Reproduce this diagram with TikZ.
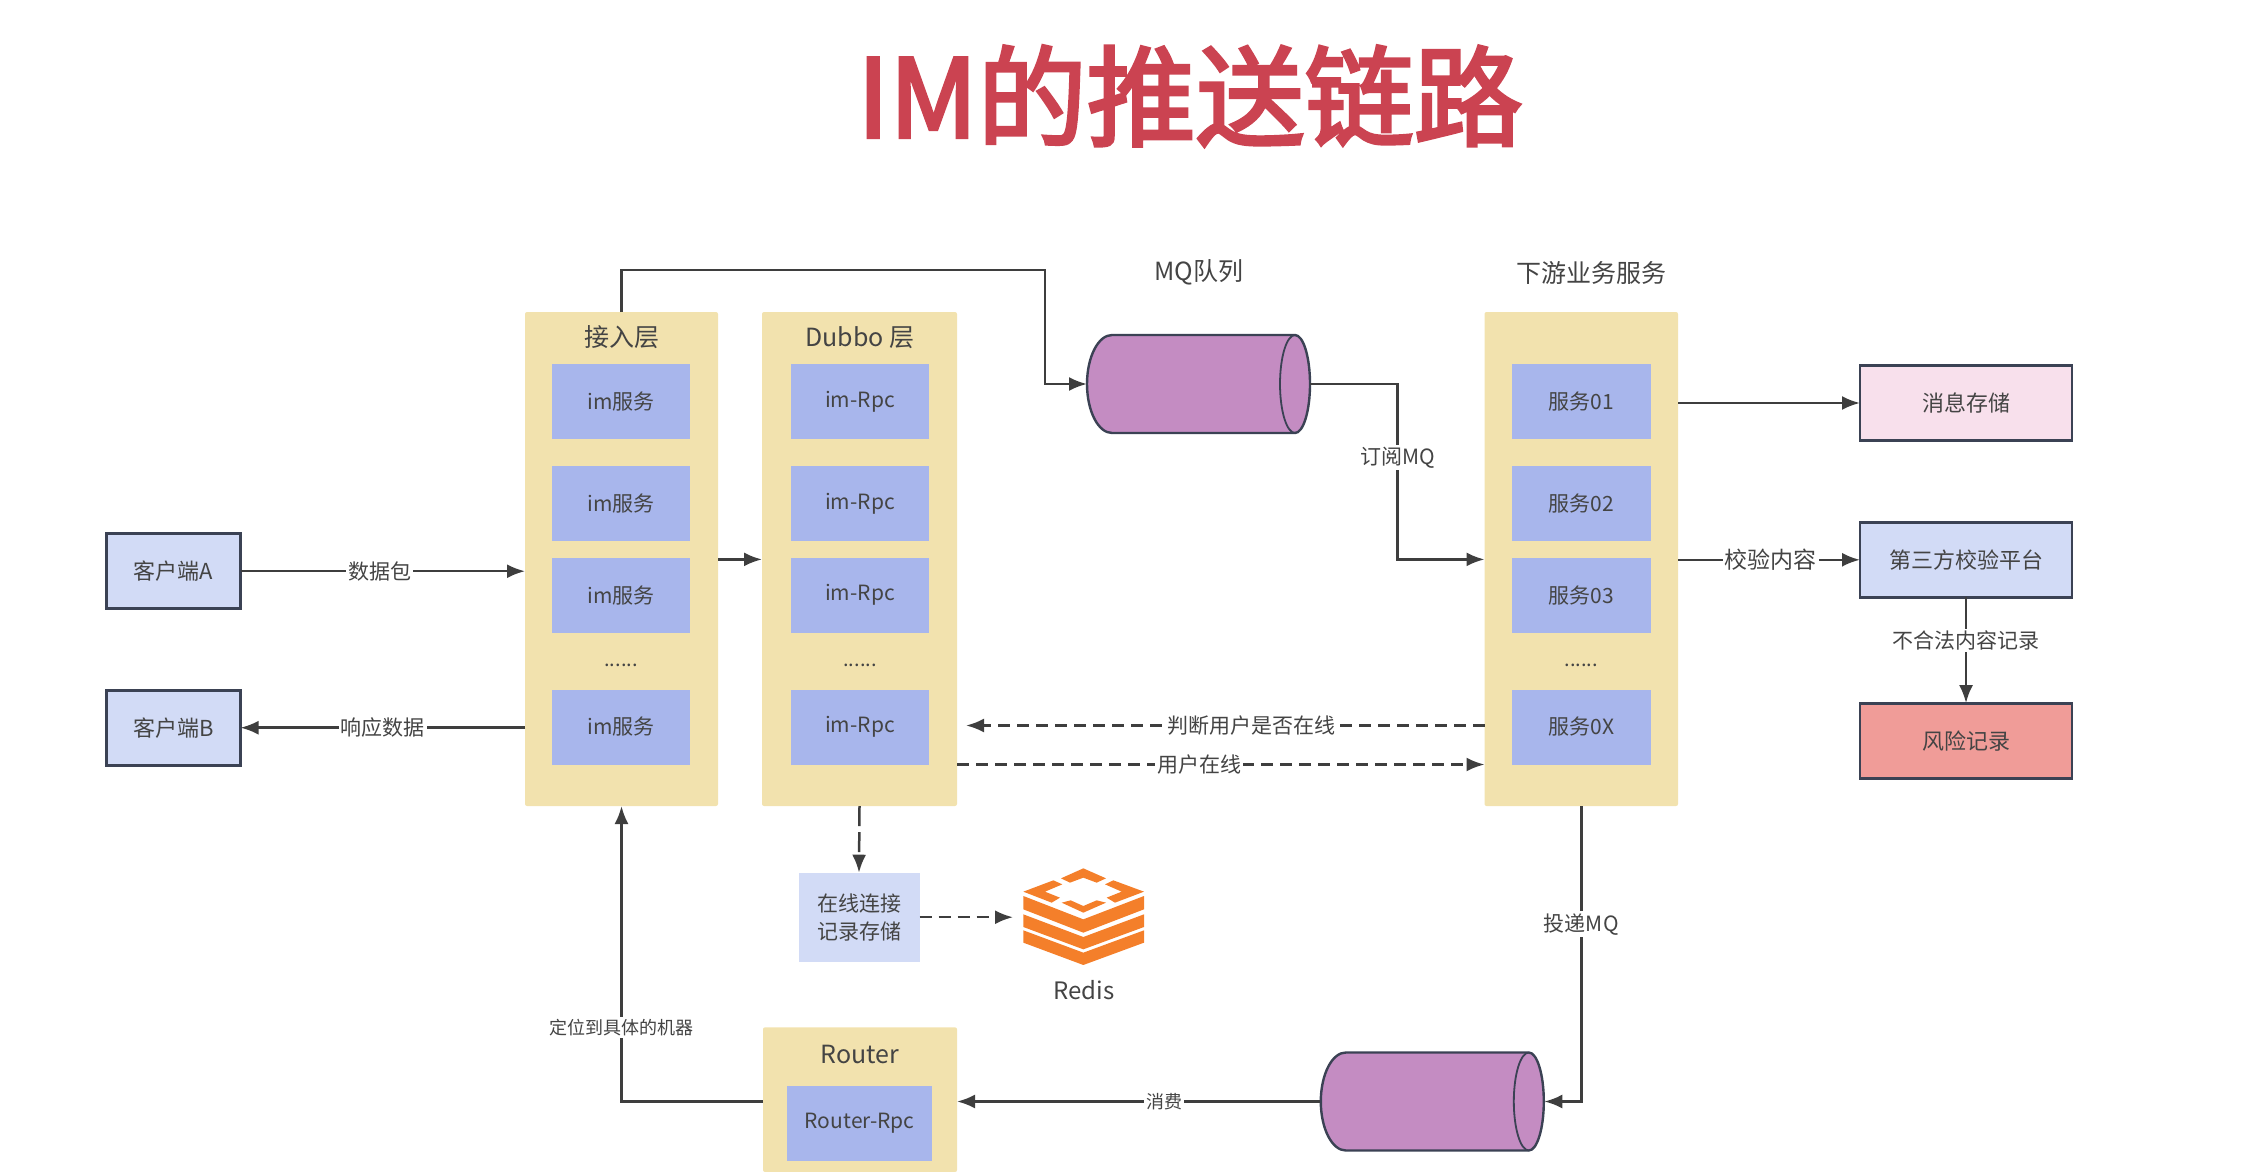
\documentclass[tikz,border=0pt]{standalone}
\usepackage{fontspec}
\setmainfont{Noto Sans CJK SC}
\newfontfamily\titlefont[FakeBold=3]{Noto Sans CJK SC}
\usetikzlibrary{arrows.meta,calc}
\definecolor{ink}{HTML}{444444}
\definecolor{wire}{HTML}{3E3E3E}
\definecolor{panelc}{HTML}{F2E2AE}
\definecolor{innerc}{HTML}{A8B6EC}
\definecolor{lightc}{HTML}{D2DBF6}
\definecolor{pinkc}{HTML}{F8E0EC}
\definecolor{redc}{HTML}{F09C98}
\definecolor{cylc}{HTML}{C48CC2}
\definecolor{edgec}{HTML}{3B4254}
\definecolor{titlec}{HTML}{CB4351}
\definecolor{orangec}{HTML}{F47F2A}
\newcommand{\fs}[1]{\fontsize{#1pt}{#1pt}\selectfont}
\tikzset{
  base/.style={inner sep=0pt,outer sep=0pt,text=ink,align=center},
  panel/.style={base,fill=panelc,rounded corners=2pt,minimum width=#1},
  tallp/.style={minimum height=494pt},
  inbox/.style={base,fill=innerc,minimum height=75pt,minimum width=#1,font=\fs{21}},
  sidebox/.style={base,draw=edgec,line width=2.8pt,fill=#1,minimum width=212pt,minimum height=75pt,font=\fs{22}},
  captxt/.style={base,font=\fs{25}},
  dotsn/.style={base,font=\fs{20}},
  lbl/.style={base,fill=white,inner sep=2pt,font=\fs{#1}},
  lbl/.default=21,
  wireline/.style={draw=wire,line width=2.5pt,-{Latex[length=18pt,width=14pt]}},
  dashline/.style={wireline,dash pattern=on 12pt off 7pt},
  cylbody/.style={fill=cylc,draw=edgec,line width=2.4pt},
  redisp/.style={fill=orangec,draw=none},
}
\begin{document}
\begin{tikzpicture}[x=1pt,y=-1pt]
\useasboundingbox (0,0) rectangle (2264,1172);
% title
\node[base,text=titlec,font=\titlefont\fs{109}] (title) at (1190,96) {IM的推送链路};
% clients
\node[sidebox=lightc,minimum width=134pt] (clA) at (173.5,571.2) {客户端A};
\node[sidebox=lightc,minimum width=134pt] (clB) at (173.5,727.7) {客户端B};
% access panel
\node[panel=193pt,tallp] (p1) at (621.5,559) {};
\node[captxt] (p1t) at (621.5,337.5) {接入层};
\node[inbox=138pt] (a1) at (621,401.9) {im服务};
\node[inbox=138pt] (a2) at (621,503.5) {im服务};
\node[inbox=138pt] (a3) at (621,595.1) {im服务};
\node[dotsn] (a4) at (621,665) {......};
\node[inbox=138pt] (a5) at (621,727) {im服务};
% dubbo panel
\node[panel=195pt,tallp] (p2) at (859.5,559) {};
\node[captxt] (p2t) at (860,337.5) {Dubbo 层};
\node[inbox=138pt] (b1) at (860,401.9) {im-Rpc};
\node[inbox=138pt] (b2) at (860,503.5) {im-Rpc};
\node[inbox=138pt] (b3) at (860,595.1) {im-Rpc};
\node[dotsn] (b4) at (860,665) {......};
\node[inbox=138pt] (b5) at (860,727) {im-Rpc};
% downstream panel
\node[panel=193.5pt,tallp] (p3) at (1581.25,559) {};
\node[captxt] (p3t) at (1591,272.5) {下游业务服务};
\node[inbox=138.5pt] (c1) at (1581.25,401.9) {服务01};
\node[inbox=138.5pt] (c2) at (1581.25,503.5) {服务02};
\node[inbox=138.5pt] (c3) at (1581.25,595.1) {服务03};
\node[dotsn] (c4) at (1581.25,665) {......};
\node[inbox=138.5pt] (c5) at (1581.25,727) {服务0X};
% right boxes
\node[sidebox=pinkc] (store) at (1966,403) {消息存储};
\node[sidebox=lightc] (third) at (1966,559.8) {第三方校验平台};
\node[sidebox=redc] (risk) at (1966,740.6) {风险记录};
% router
\node[panel=194pt,minimum height=144.7pt] (rt) at (860,1099.65) {};
\node[captxt] (rtt) at (860,1054) {Router};
\node[inbox=145.5pt] (rtr) at (859.7,1123) {Router-Rpc};
% online store
\node[base,fill=lightc,minimum width=121pt,minimum height=89pt,font=\fs{21}] (on) at (859,917.2) {在线连接\\[7pt]记录存储};
% queues
\node[base,minimum width=223pt,minimum height=98pt] (mq1) at (1198.5,384) {};
\node[base,minimum width=224pt,minimum height=98pt] (mq2) at (1432.3,1101.5) {};
\node[captxt] (mq1t) at (1199,272.5) {MQ队列};
\foreach \c in {mq1,mq2}{
\begin{scope}[shift={(\c.center)}]
\path[cylbody] (96.5,-49) .. controls (104.8,-49) and (111.5,-27) .. (111.5,0) .. controls (111.5,27) and (104.8,49) .. (96.5,49) -- (-86.5,49) .. controls (-100.3,49) and (-111.5,27) .. (-111.5,0) .. controls (-111.5,-27) and (-100.3,-49) .. (-86.5,-49) -- cycle;
\path[draw=edgec,line width=1.8pt] (96.5,-49) .. controls (88.2,-49) and (81.5,-27) .. (81.5,0) .. controls (81.5,27) and (88.2,49) .. (96.5,49);
\end{scope}}
% redis
\node[base,minimum width=142pt,minimum height=96pt] (redis) at (1084,916) {};
\node[base,font=\fs{24}] (redist) at (1084,990) {Redis};
\begin{scope}[shift={(1000,851)},x=0.3333pt,y=-0.3333pt]
\fill[redisp] (70,135) -- (250,205) -- (432,135) -- (432,175) -- (250,245) -- (70,175) -- cycle;
\fill[redisp] (70,190) -- (250,258) -- (432,190) -- (432,228) -- (250,295) -- (70,228) -- cycle;
\fill[redisp] (70,238) -- (250,305) -- (432,238) -- (432,275) -- (250,342) -- (70,275) -- cycle;
\fill[redisp] (250,52) -- (318,82) -- (290,95) -- (250,80) -- (210,95) -- (183,82) -- cycle;
\fill[redisp] (70,122) -- (160,88) -- (187,100) -- (135,122) -- (180,140) -- (155,155) -- cycle;
\fill[redisp] (432,122) -- (340,88) -- (315,100) -- (365,122) -- (320,140) -- (345,155) -- cycle;
\fill[redisp] (185,155) -- (212,148) -- (250,165) -- (290,148) -- (318,155) -- (250,185) -- cycle;
\end{scope}
% routing helpers
\coordinate (top) at (1045,270);
\coordinate (j1) at (1397.4,559.4);
\coordinate (d1) at (1484.5,725.5);
\coordinate (d2) at (1484.5,764.5);
% connectors
\draw[wireline] (clA.east) -- node[lbl,pos=.49]{数据包} (clA.east -| p1.west);
\draw[wireline] (p1.west |- clB.east) -- node[lbl,pos=.5]{响应数据} (clB.east);
\draw[wireline] (p1.east |- j1) -- (p2.west |- j1);
\draw[wireline] (p1.north) -- (p1.north |- top) -- (top) -- (top |- mq1.west) -- (mq1.west);
\draw[wireline] (mq1.east) -- (mq1.east -| j1) -- node[lbl,pos=.42]{订阅MQ} (j1) -- (j1 -| p3.west);
\draw[wireline] (store.west -| p3.east) -- (store.west);
\draw[wireline] (third.west -| p3.east) -- node[lbl=23,pos=.51]{校验内容} (third.west);
\draw[wireline] (third.south) -- node[lbl,pos=.41]{不合法内容记录} (risk.north);
\draw[dashline,shorten >=9pt] (d1) -- node[lbl,pos=.442]{判断用户是否在线} (d1 -| p2.east);
\draw[dashline] (d2 -| p2.east) -- node[lbl,pos=.459]{用户在线} (d2);
\draw[wireline,dash pattern=on 20pt off 6pt] (p2.south) -- (on.north);
\draw[dashline] (on.east) -- (on.east -| redis.west);
\draw[wireline] (p3.south) -- node[lbl,pos=.4]{投递MQ} (p3.south |- mq2.east) -- (mq2.east);
\draw[wireline] (mq2.west) -- node[lbl=18,pos=.43]{消费} (mq2.west -| rt.east);
\draw[wireline] (rt.west |- mq2.west) -- (p1.south |- mq2.west) -- node[lbl=18,pos=.25]{定位到具体的机器} (p1.south);
\end{tikzpicture}
\end{document}
